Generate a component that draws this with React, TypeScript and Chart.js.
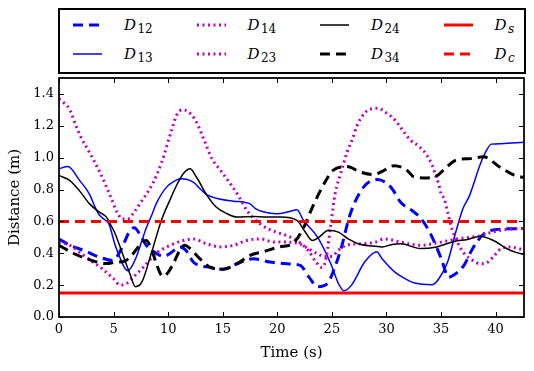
import React, { useEffect, useRef } from 'react';
import { Chart, registerables } from 'chart.js';

Chart.register(...registerables);

// ---- data ----
const X_MAX = 42.6;
const Y_MAX = 1.5;
const X_TICKS = [0, 5, 10, 15, 20, 25, 30, 35, 40];
const X_TICK_LABELS = ['0', '5', '10', '15', '20', '25', '30', '35', '40'];
const Y_TICKS = [0, 0.2, 0.4, 0.6, 0.8, 1.0, 1.2, 1.4];
const Y_TICK_LABELS = ['0.0', '0.2', '0.4', '0.6', '0.8', '1.0', '1.2', '1.4'];

const D12_T = [0, 1, 2.2, 3.7, 4.95, 5.5, 6, 6.4, 6.9, 7.4, 8, 8.9, 9.6, 10.2, 11.1, 11.6, 12.3, 13, 13.8, 15, 16.3, 17.8, 19.3, 20.9, 22.1, 22.9, 23.7, 24.6, 25.2, 25.8, 26.7, 27.9, 29.2, 30.4, 31.3, 32.5, 33.2, 34.05, 35, 35.7, 36.2, 37.1, 37.9, 38.9, 40.2, 41.7, 42.6];
const D12_V = [0.49, 0.45, 0.42, 0.376, 0.355, 0.40, 0.47, 0.53, 0.56, 0.52, 0.45, 0.40, 0.38, 0.40, 0.44, 0.42, 0.345, 0.32, 0.313, 0.30, 0.334, 0.366, 0.345, 0.334, 0.324, 0.25, 0.19, 0.21, 0.30, 0.42, 0.65, 0.815, 0.863, 0.815, 0.72, 0.66, 0.615, 0.52, 0.37, 0.25, 0.265, 0.324, 0.43, 0.52, 0.55, 0.554, 0.555];

const D13_T = [0, 0.8, 1.9, 2.8, 3.3, 3.7, 4.2, 4.6, 5.1, 5.6, 6.0, 6.3, 6.6, 7.1, 7.6, 8.0, 8.5, 8.9, 9.85, 10.5, 11.1, 12.3, 13.0, 13.5, 14.7, 16.0, 17.0, 17.5, 18.0, 18.7, 20.0, 21.0, 21.8, 22.4, 23.7, 24.9, 25.6, 26.1, 26.8, 28.0, 29.1, 29.6, 30.8, 31.6, 32.5, 34.2, 34.8, 35.6, 36.35, 37.0, 37.6, 38.6, 39.2, 39.6, 40.5, 42.6];
const D13_V = [0.93, 0.944, 0.856, 0.77, 0.69, 0.64, 0.61, 0.58, 0.46, 0.37, 0.31, 0.29, 0.31, 0.38, 0.48, 0.56, 0.64, 0.71, 0.815, 0.85, 0.867, 0.846, 0.80, 0.77, 0.74, 0.727, 0.72, 0.71, 0.68, 0.66, 0.648, 0.66, 0.673, 0.606, 0.50, 0.334, 0.21, 0.165, 0.20, 0.345, 0.41, 0.366, 0.28, 0.245, 0.215, 0.203, 0.24, 0.345, 0.533, 0.68, 0.76, 0.96, 1.05, 1.085, 1.088, 1.096];

const D14_T = [0, 0.5, 1.0, 1.5, 2.0, 2.9, 3.8, 4.7, 5.3, 5.8, 6.3, 6.8, 7.4, 8.6, 9.4, 10.35, 10.8, 11.3, 11.8, 12.5, 13.3, 14.0, 14.8, 15.9, 16.5, 17.2, 18.5, 20.0, 20.9, 21.8, 22.8, 23.6, 24.1, 24.5, 24.9, 25.3, 25.8, 26.4, 26.9, 27.3, 28.1, 29.2, 30.1, 30.8, 31.5, 32.2, 33.0, 33.6, 34.2, 34.5, 34.8, 35.0, 35.3, 35.6, 35.9, 36.5, 37.1, 37.9, 38.6, 39.3, 39.9, 40.5, 41.3, 42.6];
const D14_V = [1.37, 1.34, 1.30, 1.21, 1.13, 1.02, 0.90, 0.76, 0.66, 0.615, 0.615, 0.65, 0.71, 0.84, 0.97, 1.18, 1.27, 1.30, 1.29, 1.235, 1.11, 0.995, 0.92, 0.817, 0.754, 0.67, 0.58, 0.53, 0.51, 0.48, 0.42, 0.34, 0.31, 0.38, 0.58, 0.775, 0.90, 1.036, 1.12, 1.20, 1.287, 1.31, 1.276, 1.235, 1.17, 1.11, 1.07, 1.025, 0.95, 0.89, 0.83, 0.775, 0.74, 0.66, 0.575, 0.47, 0.40, 0.355, 0.334, 0.345, 0.387, 0.43, 0.44, 0.42];

const D23_T = [0, 1, 2, 3, 4, 5, 5.6, 6.2, 6.8, 7.7, 8.9, 10.2, 11.4, 12.3, 13.5, 14.8, 16.0, 17.2, 18.5, 19.7, 20.75, 22.0, 22.8, 23.6, 24.3, 25.0, 25.6, 26.3, 27.8, 29.0, 29.8, 31.3, 33.1, 35.0, 36.5, 38.6, 39.9, 41.9, 42.6];
const D23_V = [0.47, 0.45, 0.40, 0.35, 0.30, 0.24, 0.20, 0.21, 0.25, 0.31, 0.40, 0.45, 0.48, 0.49, 0.46, 0.44, 0.45, 0.48, 0.49, 0.47, 0.47, 0.46, 0.43, 0.40, 0.38, 0.38, 0.42, 0.45, 0.46, 0.47, 0.49, 0.47, 0.45, 0.47, 0.49, 0.51, 0.537, 0.554, 0.555];

const D24_T = [0, 1.0, 1.9, 2.8, 3.7, 4.35, 4.8, 5.1, 5.7, 6.5, 7.0, 7.6, 8.5, 9.4, 10.2, 10.8, 11.4, 12.0, 12.6, 13.5, 14.4, 15.4, 16.3, 17.8, 19.0, 20.3, 21.8, 22.5, 23.2, 23.8, 24.7, 25.6, 26.5, 27.4, 28.7, 29.6, 30.5, 31.3, 33.1, 34.6, 36.2, 37.4, 38.6, 39.8, 41.0, 41.8, 42.6];
const D24_V = [0.888, 0.856, 0.79, 0.71, 0.658, 0.627, 0.57, 0.53, 0.42, 0.27, 0.19, 0.22, 0.41, 0.61, 0.74, 0.83, 0.90, 0.93, 0.877, 0.77, 0.69, 0.648, 0.627, 0.63, 0.627, 0.627, 0.606, 0.54, 0.48, 0.50, 0.545, 0.533, 0.49, 0.46, 0.445, 0.44, 0.455, 0.46, 0.43, 0.44, 0.474, 0.487, 0.507, 0.48, 0.43, 0.407, 0.393];

const D34_T = [0, 1.3, 2.8, 4.35, 5.3, 6.0, 6.7, 7.4, 8.0, 8.5, 9.0, 9.5, 10.0, 10.5, 11.0, 11.5, 12.0, 12.9, 13.8, 15.0, 16.3, 17.5, 18.7, 20.2, 21.5, 22.4, 23.35, 24.4, 25.1, 26.4, 27.6, 28.8, 29.5, 30.7, 31.9, 32.5, 33.75, 34.7, 35.5, 36.35, 37.7, 38.9, 40.3, 41.7, 42.6];
const D34_V = [0.45, 0.40, 0.36, 0.335, 0.345, 0.35, 0.39, 0.45, 0.48, 0.42, 0.32, 0.255, 0.28, 0.34, 0.41, 0.45, 0.43, 0.366, 0.313, 0.30, 0.334, 0.387, 0.41, 0.44, 0.465, 0.56, 0.71, 0.85, 0.92, 0.944, 0.91, 0.894, 0.91, 0.95, 0.92, 0.88, 0.873, 0.89, 0.94, 0.984, 0.994, 1.005, 0.945, 0.89, 0.875];

const DS_T = [0, X_MAX];
const DS_V = [0.15, 0.15];
const DC_T = [0, X_MAX];
const DC_V = [0.6, 0.6];

// ---- styles ----
const BLUE = '#0000ff';
const MAGENTA = '#bf00bf';
const BLACK = '#000000';
const RED = '#ff0000';
const DASH = [10, 6];
const DOT = [2, 3.5];

type Series = { main: string; sub: string; subItalic: boolean; t: number[]; v: number[]; color: string; width: number; dash: number[] };

// matplotlib order (legend filled column by column)
const SERIES: Series[] = [
  { main: 'D', sub: '12', subItalic: false, t: D12_T, v: D12_V, color: BLUE, width: 3, dash: DASH },
  { main: 'D', sub: '13', subItalic: false, t: D13_T, v: D13_V, color: BLUE, width: 1.5, dash: [] },
  { main: 'D', sub: '14', subItalic: false, t: D14_T, v: D14_V, color: MAGENTA, width: 3, dash: DOT },
  { main: 'D', sub: '23', subItalic: false, t: D23_T, v: D23_V, color: MAGENTA, width: 3, dash: DOT },
  { main: 'D', sub: '24', subItalic: false, t: D24_T, v: D24_V, color: BLACK, width: 1.5, dash: [] },
  { main: 'D', sub: '34', subItalic: false, t: D34_T, v: D34_V, color: BLACK, width: 3, dash: DASH },
  { main: 'D', sub: 's', subItalic: true, t: DS_T, v: DS_V, color: RED, width: 3, dash: [] },
  { main: 'D', sub: 'c', subItalic: true, t: DC_T, v: DC_V, color: RED, width: 3, dash: DASH },
];

const W = 534;
const H = 371;
const SERIF = "'DejaVu Serif', serif";

const framePlugin = {
  id: 'mplFrame',
  afterDraw(chart: any) {
    const { ctx, chartArea: a, scales } = chart;
    const L = 5;
    ctx.save();
    ctx.strokeStyle = '#000';
    ctx.lineWidth = 1;
    ctx.beginPath();
    X_TICKS.forEach((v) => {
      const px = Math.round(scales.x.getPixelForValue(v)) + 0.5;
      ctx.moveTo(px, a.bottom);
      ctx.lineTo(px, a.bottom - L);
      ctx.moveTo(px, a.top);
      ctx.lineTo(px, a.top + L);
    });
    Y_TICKS.forEach((v) => {
      const py = Math.round(scales.y.getPixelForValue(v)) + 0.5;
      ctx.moveTo(a.left, py);
      ctx.lineTo(a.left + L, py);
      ctx.moveTo(a.right, py);
      ctx.lineTo(a.right - L, py);
    });
    ctx.stroke();
    ctx.lineWidth = 1.75;
    ctx.strokeRect(a.left, a.top, a.right - a.left, a.bottom - a.top);
    ctx.restore();
  },
};

function Legend() {
  const colStep = 123.5;
  const rowStep = 29;
  return (
    <div
      style={{
        position: 'absolute',
        left: 58,
        top: 8,
        width: 468,
        height: 66,
        boxSizing: 'border-box',
        border: '2px solid #000',
        background: '#fff',
      }}
    >
      {SERIES.map((s, i) => {
        const col = Math.floor(i / 2);
        const row = i % 2;
        const lineY = 14.9 + rowStep * row;
        const baseline = 20.7 + rowStep * row;
        return (
          <React.Fragment key={i}>
            <svg
              width={31}
              height={8}
              style={{ position: 'absolute', left: 13.4 + colStep * col, top: lineY - 4 }}
            >
              <line
                x1={0}
                y1={4}
                x2={29}
                y2={4}
                stroke={s.color}
                strokeWidth={s.width}
                strokeDasharray={s.dash.length ? s.dash.join(' ') : undefined}
              />
            </svg>
            <div
              style={{
                position: 'absolute',
                left: 63.9 + colStep * col,
                top: baseline - 12.7,
                fontFamily: SERIF,
                fontSize: 15,
                lineHeight: '15px',
                whiteSpace: 'nowrap',
                color: '#000',
              }}
            >
              <span style={{ fontStyle: 'italic' }}>{s.main}</span>
              <span
                style={{
                  fontSize: 12,
                  fontStyle: s.subItalic ? 'italic' : 'normal',
                  verticalAlign: '-3px',
                  marginLeft: 1.5,
                  lineHeight: '0',
                }}
              >
                {s.sub}
              </span>
            </div>
          </React.Fragment>
        );
      })}
    </div>
  );
}

export default function App() {
  const ref = useRef<HTMLCanvasElement>(null);

  useEffect(() => {
    const canvas = ref.current;
    if (!canvas) return;
    const datasets = SERIES.map((s, i) => ({
      label: s.main + s.sub,
      data: s.t.map((t, k) => ({ x: t, y: s.v[k] })),
      borderColor: s.color,
      backgroundColor: s.color,
      borderWidth: s.width,
      borderDash: s.dash,
      borderCapStyle: 'butt' as const,
      pointRadius: 0,
      pointHoverRadius: 0,
      fill: false,
      cubicInterpolationMode: 'monotone' as const,
      order: SERIES.length - i,
    }));
    const tickFont = { family: SERIF, size: 13 };
    const titleFont = { family: SERIF, size: 15 };
    const chart = new Chart(canvas, {
      type: 'line',
      data: { datasets },
      options: {
        animation: false,
        responsive: false,
        maintainAspectRatio: false,
        devicePixelRatio: 1,
        events: [],
        layout: { padding: { top: 78, right: 10, left: 0, bottom: 0 } },
        plugins: { legend: { display: false }, tooltip: { enabled: false } },
        scales: {
          x: {
            type: 'linear',
            min: 0,
            max: X_MAX,
            afterBuildTicks: (s: any) => {
              s.ticks = X_TICKS.map((v) => ({ value: v }));
            },
            afterFit: (s: any) => {
              s.height = 54;
            },
            grid: { display: false, drawTicks: false },
            border: { display: false },
            ticks: {
              font: tickFont,
              color: '#000',
              padding: 5,
              maxRotation: 0,
              autoSkip: false,
              callback: (_v: any, idx: number) => X_TICK_LABELS[idx],
            },
            title: {
              display: true,
              text: 'Time (s)',
              font: titleFont,
              color: '#000',
              padding: { top: 0, bottom: 9 },
            },
          },
          y: {
            type: 'linear',
            min: 0,
            max: Y_MAX,
            afterBuildTicks: (s: any) => {
              s.ticks = Y_TICKS.map((v) => ({ value: v }));
            },
            afterFit: (s: any) => {
              s.width = 59;
            },
            grid: { display: false, drawTicks: false },
            border: { display: false },
            ticks: {
              font: tickFont,
              color: '#000',
              padding: 5,
              autoSkip: false,
              callback: (_v: any, idx: number) => Y_TICK_LABELS[idx],
            },
            title: {
              display: true,
              text: 'Distance (m)',
              font: titleFont,
              color: '#000',
              padding: { top: 6, bottom: 0 },
            },
          },
        },
      },
      plugins: [framePlugin],
    } as any);
    return () => chart.destroy();
  }, []);

  return (
    <div style={{ position: 'absolute', left: 0, top: 0, width: W, height: H, background: '#fff' }}>
      <canvas ref={ref} width={W} height={H} style={{ position: 'absolute', left: 0, top: 0, width: W, height: H }} />
      <Legend />
    </div>
  );
}
